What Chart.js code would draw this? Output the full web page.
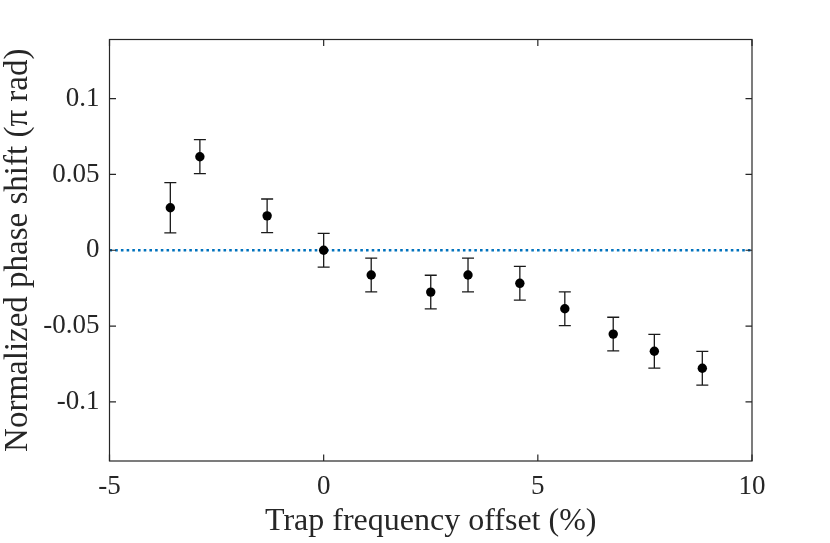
<!DOCTYPE html>
<html>
<head>
<meta charset="utf-8">
<script src="https://cdn.jsdelivr.net/npm/chart.js@4/dist/chart.umd.min.js"></script>
<style>
  html, body { margin: 0; padding: 0; background: #ffffff; }
  #wrap { width: 830px; height: 543px; }
</style>
</head>
<body>
<div id="wrap"><canvas id="c" width="830" height="543"></canvas></div>
<script>
// ---- data ----
const offsets = [-3.58, -2.89, -1.32, 0, 1.11, 2.50, 3.37, 4.58, 5.63, 6.76, 7.72, 8.84];
const phaseShift = [0.028, 0.0617, 0.0227, 0, -0.0163, -0.0276, -0.0163, -0.0218, -0.0386, -0.0553, -0.0666, -0.0778];
const phaseErr = [0.0166, 0.0112, 0.0111, 0.0111, 0.0111, 0.0111, 0.0111, 0.0111, 0.0111, 0.0111, 0.0111, 0.0111];
const zeroLineX = [-5, 10];
const zeroLineY = [0, 0];
const xTickValues = [-5, 0, 5, 10];
const xTickLabels = ['-5', '0', '5', '10'];
const yTickValues = [-0.1, -0.05, 0, 0.05, 0.1];
const yTickLabels = ['-0.1', '-0.05', '0', '0.05', '0.1'];
const xTitle = 'Trap frequency offset (%)';
const yTitle = 'Normalized phase shift (\u03C0 rad)';

const FONT = '"Liberation Serif", "DejaVu Serif", serif';
const AXIS_COLOR = '#262626';

const points = offsets.map((x, i) => ({ x: x, y: phaseShift[i] }));
const zeroLine = zeroLineX.map((x, i) => ({ x: x, y: zeroLineY[i] }));

const errorBars = {
  id: 'errorBars',
  beforeDatasetsDraw(chart) {
    const ctx = chart.ctx;
    const xs = chart.scales.x, ys = chart.scales.y;
    ctx.save();
    ctx.strokeStyle = '#1a1a1a';
    ctx.lineWidth = 1.3;
    const cap = 6;
    offsets.forEach((x, i) => {
      const px = xs.getPixelForValue(x);
      const top = ys.getPixelForValue(phaseShift[i] + phaseErr[i]);
      const bot = ys.getPixelForValue(phaseShift[i] - phaseErr[i]);
      ctx.beginPath();
      ctx.moveTo(px, top); ctx.lineTo(px, bot);
      ctx.moveTo(px - cap, top); ctx.lineTo(px + cap, top);
      ctx.moveTo(px - cap, bot); ctx.lineTo(px + cap, bot);
      ctx.stroke();
    });
    ctx.restore();
  }
};

const boxTicks = {
  id: 'boxTicks',
  afterDraw(chart) {
    const ctx = chart.ctx;
    const a = chart.chartArea;
    const xs = chart.scales.x, ys = chart.scales.y;
    const len = 6.5;
    ctx.save();
    ctx.strokeStyle = AXIS_COLOR;
    ctx.lineWidth = 1.2;
    ctx.beginPath();
    xTickValues.forEach(v => {
      const p = xs.getPixelForValue(v);
      ctx.moveTo(p, a.bottom); ctx.lineTo(p, a.bottom - len);
      ctx.moveTo(p, a.top); ctx.lineTo(p, a.top + len);
    });
    yTickValues.forEach(v => {
      const p = ys.getPixelForValue(v);
      ctx.moveTo(a.left, p); ctx.lineTo(a.left + len, p);
      ctx.moveTo(a.right, p); ctx.lineTo(a.right - len, p);
    });
    ctx.stroke();
    ctx.strokeRect(a.left, a.top, a.right - a.left, a.bottom - a.top);
    ctx.restore();
  }
};

new Chart(document.getElementById('c'), {
  type: 'scatter',
  data: {
    datasets: [
      {
        label: 'Phase shift',
        data: points,
        order: 0,
        showLine: false,
        pointRadius: 4.7,
        pointHoverRadius: 4.7,
        pointBackgroundColor: '#000000',
        pointBorderColor: '#000000',
        pointBorderWidth: 0
      },
      {
        label: 'Zero',
        data: zeroLine,
        order: 1,
        showLine: true,
        pointRadius: 0,
        borderColor: '#0072BD',
        borderWidth: 2.5,
        borderDash: [2.6, 3.1],
        fill: false
      }
    ]
  },
  options: {
    responsive: false,
    animation: false,
    devicePixelRatio: 1,
    layout: { padding: { top: 39.5, right: 78, left: 0, bottom: 0 } },
    plugins: { legend: { display: false }, tooltip: { enabled: false } },
    scales: {
      x: {
        type: 'linear',
        min: -5, max: 10,
        afterFit(s) { s.height = 82; },
        afterBuildTicks(s) { s.ticks = xTickValues.map(v => ({ value: v })); },
        grid: { display: false, drawTicks: false },
        border: { display: false },
        ticks: {
          padding: 10,
          color: AXIS_COLOR,
          font: { family: FONT, size: 27 },
          maxRotation: 0,
          callback: (v) => { const i = xTickValues.indexOf(v); return i >= 0 ? xTickLabels[i] : ''; }
        },
        title: {
          display: true, text: xTitle, color: AXIS_COLOR,
          font: { family: FONT, size: 32, lineHeight: 1.2 },
          padding: { top: 0, bottom: 2 }
        }
      },
      y: {
        type: 'linear',
        min: -0.139, max: 0.139,
        afterFit(s) { s.width = 109.5; },
        afterBuildTicks(s) { s.ticks = yTickValues.map(v => ({ value: v })); },
        grid: { display: false, drawTicks: false },
        border: { display: false },
        ticks: {
          padding: 10,
          color: AXIS_COLOR,
          font: { family: FONT, size: 27 },
          callback: (v) => {
            const i = yTickValues.findIndex(t => Math.abs(t - v) < 1e-9);
            return i >= 0 ? yTickLabels[i] : '';
          }
        },
        title: {
          display: true, text: yTitle, color: AXIS_COLOR,
          font: { family: FONT, size: 33, lineHeight: 1.1 },
          padding: { top: 0, bottom: 0 }
        }
      }
    }
  },
  plugins: [errorBars, boxTicks]
});
</script>
</body>
</html>
